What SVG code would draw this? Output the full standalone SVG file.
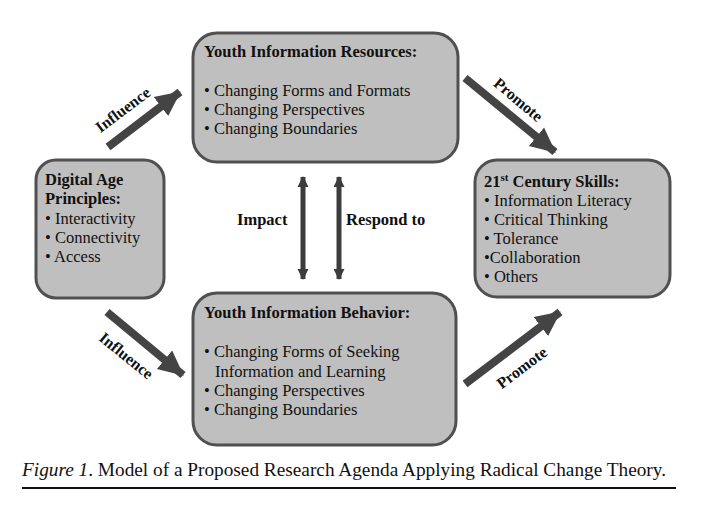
<svg xmlns="http://www.w3.org/2000/svg" width="714" height="518" viewBox="0 0 714 518">
  <style>
    .box { fill: #bfbfbf; stroke: #505050; stroke-width: 3; }
    .t { font-family: "Liberation Serif", "Times New Roman", serif; font-size: 16.5px; fill: #111; }
    .b { font-weight: bold; }
    .lbl { font-family: "Liberation Serif", "Times New Roman", serif; font-size: 16px; font-weight: bold; fill: #111; }
    .thick { stroke: #444; stroke-width: 8; fill: none; marker-end: url(#bigHead); }
    .thin { stroke: #3c3c3c; stroke-width: 5; fill: none; marker-start: url(#smallHead); marker-end: url(#smallHead); }
    .cap { font-family: "Liberation Serif", "Times New Roman", serif; font-size: 18.5px; fill: #111; }
  </style>
  <defs>
    <marker id="bigHead" markerUnits="userSpaceOnUse" markerWidth="26" markerHeight="26" viewBox="0 0 26 26" refX="24" refY="13" orient="auto">
      <path d="M0,1 L25,13 L0,25 Z" fill="#444"/>
    </marker>
    <marker id="smallHead" markerUnits="userSpaceOnUse" markerWidth="12" markerHeight="12" viewBox="0 0 12 12" refX="10" refY="6" orient="auto-start-reverse">
      <path d="M0,0.5 L11,6 L0,11.5 Z" fill="#3c3c3c"/>
    </marker>
  </defs>

  <g id="connectors">
    <line class="thick" x1="108" y1="147" x2="180" y2="92"/>
    <line class="thick" x1="107" y1="312" x2="183" y2="375"/>
    <line class="thick" x1="465" y1="78" x2="555" y2="152"/>
    <line class="thick" x1="465" y1="384" x2="560" y2="312"/>
    <line class="thin" x1="303" y1="177" x2="303" y2="279"/>
    <line class="thin" x1="339" y1="177" x2="339" y2="279"/>
    <text class="lbl" transform="translate(123,110) rotate(-37)" text-anchor="middle" y="5">Influence</text>
    <text class="lbl" transform="translate(126,356) rotate(39)" text-anchor="middle" y="5">Influence</text>
    <text class="lbl" transform="translate(518,100) rotate(40)" text-anchor="middle" y="5">Promote</text>
    <text class="lbl" transform="translate(522,368) rotate(-37)" text-anchor="middle" y="5">Promote</text>
    <text class="t b" x="237" y="225">Impact</text>
    <text class="t b" x="346" y="225">Respond to</text>
  </g>

  <g id="resources">
    <rect class="box" x="193" y="33" width="265" height="129" rx="24"/>
    <text class="t b" x="204" y="57">Youth Information Resources:</text>
    <text class="t" x="204" y="96">• Changing Forms and Formats</text>
    <text class="t" x="204" y="115">• Changing Perspectives</text>
    <text class="t" x="204" y="134">• Changing Boundaries</text>
  </g>

  <g id="principles">
    <rect class="box" x="36" y="160" width="128" height="138" rx="20"/>
    <text class="t b" x="45" y="185">Digital Age</text>
    <text class="t b" x="45" y="204">Principles:</text>
    <text class="t" x="45" y="224">• Interactivity</text>
    <text class="t" x="45" y="243">• Connectivity</text>
    <text class="t" x="45" y="262">• Access</text>
  </g>

  <g id="skills">
    <rect class="box" x="475" y="160" width="195" height="137" rx="22"/>
    <text class="t b" x="484" y="187">21<tspan font-size="11" dy="-6">st</tspan><tspan dy="6"> Century Skills:</tspan></text>
    <text class="t" x="484" y="206">• Information Literacy</text>
    <text class="t" x="484" y="225">• Critical Thinking</text>
    <text class="t" x="484" y="244">• Tolerance</text>
    <text class="t" x="484" y="263">•Collaboration</text>
    <text class="t" x="484" y="282">• Others</text>
  </g>

  <g id="behavior">
    <rect class="box" x="193" y="293" width="263" height="152" rx="24"/>
    <text class="t b" x="204" y="318">Youth Information Behavior:</text>
    <text class="t" x="204" y="357">• Changing Forms of Seeking</text>
    <text class="t" x="215" y="377">Information and Learning</text>
    <text class="t" x="204" y="396">• Changing Perspectives</text>
    <text class="t" x="204" y="415">• Changing Boundaries</text>
  </g>

  <g id="caption">
    <text class="cap" x="22" y="476" textLength="644" lengthAdjust="spacingAndGlyphs"><tspan font-style="italic">Figure 1</tspan>. Model of a Proposed Research Agenda Applying Radical Change Theory.</text>
    <line x1="22" y1="488" x2="676" y2="488" stroke="#111" stroke-width="2"/>
  </g>
</svg>
